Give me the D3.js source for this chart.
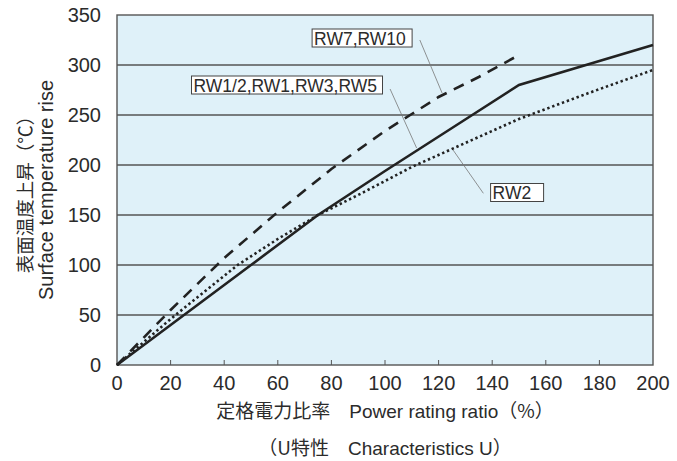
<!DOCTYPE html>
<html>
<head>
<meta charset="utf-8">
<script src="https://cdn.jsdelivr.net/npm/d3@7"></script>
<style>
  body { margin: 0; background: #fff; }
  svg { display: block; }
  text { font-family: "Liberation Sans", Arial, "Noto Sans CJK JP", sans-serif; fill: #2b2b2b; }
  .jp { font-family: "Noto Sans CJK JP", "Liberation Sans", sans-serif; }
</style>
</head>
<body>
<svg id="chart" width="677" height="461"></svg>
<script>
var xTicks = [0, 20, 40, 60, 80, 100, 120, 140, 160, 180, 200];
var yTicks = [0, 50, 100, 150, 200, 250, 300, 350];

// RW1/2,RW1,RW3,RW5 (solid)
var solidX = [0, 25, 50, 75, 100, 125, 150, 200];
var solidY = [0, 50, 100, 150, 194, 237, 280, 320];
// RW7,RW10 (dashed)
var dashX = [0, 20, 40, 60, 80, 100, 110, 120, 135, 150];
var dashY = [0, 55, 107, 153, 196, 234, 251, 268, 288, 310];
// RW2 (dotted)
var dotX = [0, 20, 45, 60, 75, 90, 110, 130, 150, 175, 200];
var dotY = [0, 46, 100, 126, 150, 170, 198, 222, 246, 271, 295];

var labels = ["RW7,RW10", "RW1/2,RW1,RW3,RW5", "RW2"];

//////////////////////////////////////////////////////////////////////////////

var svg = d3.select("#chart");
var margin = {left: 117, top: 15, right: 24, bottom: 96};
var width = 677 - margin.left - margin.right;
var height = 461 - margin.top - margin.bottom;

var x = d3.scaleLinear().domain([0, 200]).range([0, width]);
var y = d3.scaleLinear().domain([0, 350]).range([height, 0]);

var g = svg.append("g").attr("transform", "translate(" + margin.left + "," + margin.top + ")");

g.append("rect")
    .attr("width", width)
    .attr("height", height)
    .attr("fill", "#dff1f9");

// gridlines
g.selectAll("line.grid")
    .data(yTicks.slice(1, -1))
    .enter().append("line")
    .attr("class", "grid")
    .attr("x1", 0).attr("x2", width)
    .attr("y1", function(d){ return y(d); })
    .attr("y2", function(d){ return y(d); })
    .attr("stroke", "#555")
    .attr("stroke-width", 1.3);

// x ticks pointing up inside
g.selectAll("line.xt")
    .data(xTicks.slice(1, -1))
    .enter().append("line")
    .attr("class", "xt")
    .attr("x1", function(d){ return x(d); })
    .attr("x2", function(d){ return x(d); })
    .attr("y1", height).attr("y2", height - 5)
    .attr("stroke", "#555")
    .attr("stroke-width", 1);

g.append("rect")
    .attr("width", width)
    .attr("height", height)
    .attr("fill", "none")
    .attr("stroke", "#555")
    .attr("stroke-width", 1.4);

g.selectAll("text.xl")
    .data(xTicks)
    .enter().append("text")
    .attr("class", "xl")
    .attr("x", function(d){ return x(d); })
    .attr("y", height + 25)
    .attr("text-anchor", "middle")
    .style("font-size", "20px")
    .text(function(d){ return d; });

g.selectAll("text.yl")
    .data(yTicks)
    .enter().append("text")
    .attr("class", "yl")
    .attr("x", -16)
    .attr("y", function(d){ return y(d) + 7; })
    .attr("text-anchor", "end")
    .style("font-size", "20px")
    .text(function(d){ return d; });

// series
var line = d3.line()
    .x(function(d){ return x(d[0]); })
    .y(function(d){ return y(d[1]); });

function pairs(xs, ys) { return xs.map(function(d, i){ return [d, ys[i]]; }); }

g.append("path")
    .datum(pairs(dotX, dotY))
    .attr("d", line)
    .attr("fill", "none")
    .attr("stroke", "#222")
    .attr("stroke-width", 2.6)
    .attr("stroke-dasharray", "2.4,2.8");

g.append("path")
    .datum(pairs(dashX, dashY))
    .attr("d", line)
    .attr("fill", "none")
    .attr("stroke", "#222")
    .attr("stroke-width", 2.6)
    .attr("stroke-dasharray", "11,8");

g.append("path")
    .datum(pairs(solidX, solidY))
    .attr("d", line)
    .attr("fill", "none")
    .attr("stroke", "#222")
    .attr("stroke-width", 2.6);

// callouts: box anchored at its bottom-left (data units), leader from label to curve
var callouts = [
  {text: labels[0], bx: 72.8, by: 318, bw: 100, lead: [[113, 325], [121.3, 272]]},
  {text: labels[1], bx: 27.8, by: 271, bw: 191, lead: [[101.9, 276], [111.8, 217]]},
  {text: labels[2], bx: 139.4, by: 163.5, bw: 53, lead: [[136.7, 171.7], [125.4, 215]]}
];

callouts.forEach(function(c){
  g.append("line")
      .attr("x1", x(c.lead[0][0])).attr("y1", y(c.lead[0][1]))
      .attr("x2", x(c.lead[1][0])).attr("y2", y(c.lead[1][1]))
      .attr("stroke", "#777")
      .attr("stroke-width", 0.8);
});

callouts.forEach(function(c){
  var bx = x(c.bx), by = y(c.by);
  g.append("rect")
      .attr("x", bx).attr("y", by - 18)
      .attr("width", c.bw).attr("height", 18)
      .attr("fill", "#fff")
      .attr("stroke", "#444")
      .attr("stroke-width", 1);
  g.append("text")
      .attr("x", bx + 2).attr("y", by - 2.5)
      .style("font-size", "17.5px")
      .text(c.text);
});

// axis titles
svg.append("text")
    .attr("class", "jp")
    .attr("transform", "translate(32," + (margin.top + height / 2) + ") rotate(-90)")
    .attr("text-anchor", "middle")
    .style("font-size", "18.5px")
    .text("表面温度上昇（℃）");

svg.append("text")
    .attr("transform", "translate(53," + (margin.top + height / 2) + ") rotate(-90)")
    .attr("text-anchor", "middle")
    .style("font-size", "20px")
    .text("Surface temperature rise");

var xt = svg.append("text")
    .attr("x", margin.left + width / 2)
    .attr("y", 418)
    .attr("text-anchor", "middle")
    .style("font-size", "19px");
xt.append("tspan").attr("class", "jp").text("定格電力比率　");
xt.append("tspan").text("Power rating ratio");
xt.append("tspan").attr("class", "jp").text("（%）");

var ct = svg.append("text")
    .attr("x", margin.left + width / 2)
    .attr("y", 455)
    .attr("text-anchor", "middle")
    .style("font-size", "19px");
ct.append("tspan").attr("class", "jp").text("（U特性　");
ct.append("tspan").text("Characteristics U");
ct.append("tspan").attr("class", "jp").text("）");
</script>
</body>
</html>
